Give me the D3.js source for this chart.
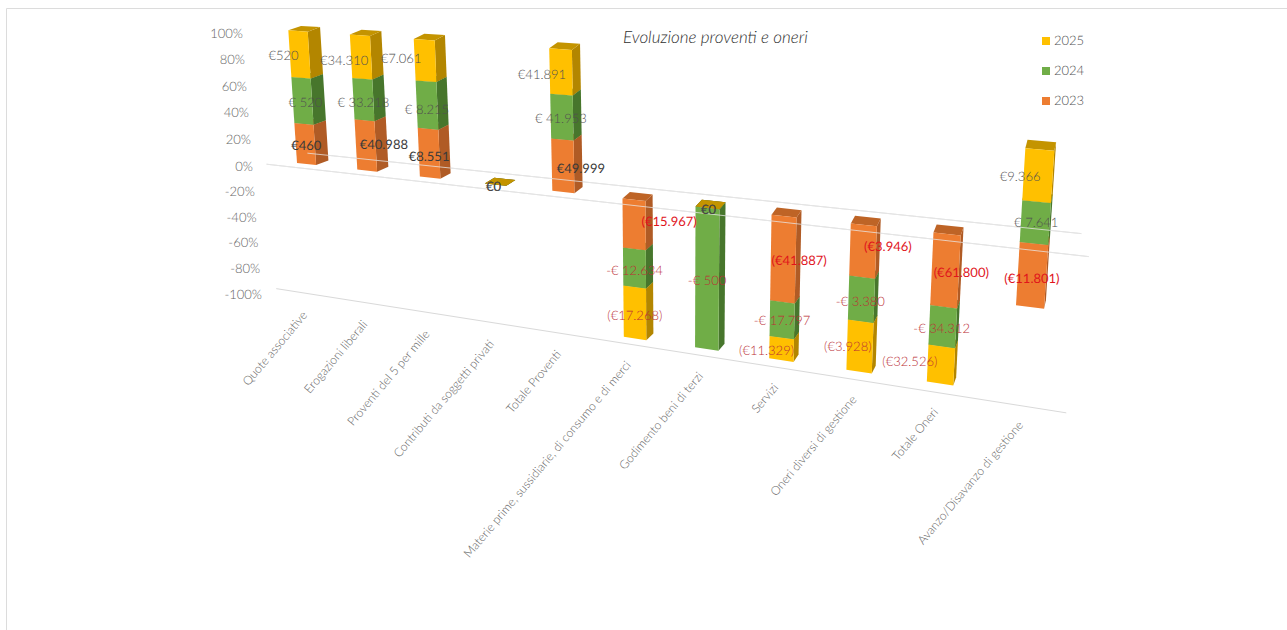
<!DOCTYPE html>
<html><head><meta charset="utf-8">
<script src="https://cdn.jsdelivr.net/npm/d3@7"></script>
<style>
html,body{margin:0;padding:0;background:#fff;overflow:hidden}
svg{display:block}
text{font-family:Lato,"Open Sans",sans-serif;text-rendering:geometricPrecision}
</style></head><body>
<svg id="c" width="1287" height="630"></svg>
<script>
// ---------- data ----------
const categories = ["Quote associative","Erogazioni liberali","Proventi del 5 per mille","Contributi da soggetti privati","Totale Proventi","Materie prime, sussidiarie, di consumo e di merci","Godimento beni di terzi","Servizi","Oneri diversi di gestione","Totale Oneri","Avanzo/Disavanzo di gestione"];
const years = ["2023","2024","2025"];
const values2023 = [460,40988,8551,0,49999,-15967,0,-41887,-3946,-61800,-11801];
const values2024 = [520,33218,8215,0,41953,-12634,-500,-17797,-3380,-34312,7641];
const values2025 = [520,34310,7061,0,41891,-17268,0,-11329,-3928,-32526,9366];
const yTicks = [100,80,60,40,20,0,-20,-40,-60,-80,-100];
const title = "Evoluzione proventi e oneri";

// ---------- layout ----------
const series = [values2023, values2024, values2025];
const faceColors = ["#ED7D31","#70AD47","#FFC000"];
const sideColors = ["#B05B25","#47762C","#B38600"];
const topColors  = ["#BE6426","#4F8232","#C49400"];
// label nudges from the centre of each segment: [dx, dy]
const nudge = [
 [[1,1],[18,-1],[0,3],[-2,2],[18,2],[35,-3],[1,1],[16,1],[25,-5],[16,2],[0,3]],
 [[3,1],[0,3],[0,4],[0,0],[-1,1],[0,2],[0,1],[0,0],[-1,2],[-1,2],[1,0]],
 [[-16,1],[-17,3],[-24,-2],[-2,2],[-19,2],[0,2],[1,1],[-15,1],[-12,0],[-31,-4],[-18,1]]
];

const svg = d3.select("#c");
const u = d3.scalePoint().domain(categories).range([0,10]);
const pct = d3.scaleLinear().domain([-1,1]).range([-100,100]);

// Perspective plane (category position, percent) -> screen
function solve(A,b){
  const n=b.length, M=A.map((r,i)=>[...r,b[i]]);
  for(let i=0;i<n;i++){
    let m=i; for(let k=i+1;k<n;k++) if(Math.abs(M[k][i])>Math.abs(M[m][i])) m=k;
    [M[i],M[m]]=[M[m],M[i]];
    for(let k=i+1;k<n;k++){const f=M[k][i]/M[i][i]; for(let j=i;j<=n;j++) M[k][j]-=f*M[i][j];}
  }
  const x=Array(n).fill(0);
  for(let i=n-1;i>=0;i--){let s=M[i][n]; for(let j=i+1;j<n;j++) s-=M[i][j]*x[j]; x[i]=s/M[i][i];}
  return x;
}
const anchors = [[0,100,298,31],[0,0,306.5,164],[9,0,947,234],[9,-100,940,383.5]];
const H = (()=>{const A=[],b=[];
  anchors.forEach(([a,p,x,y])=>{A.push([a,p,1,0,0,0,-a*x,-p*x]);b.push(x);A.push([0,0,0,a,p,1,-a*y,-p*y]);b.push(y);});
  return solve(A,b);})();
const sideX = d3.scaleLinear().domain([0,10]).range([12.5,2]);
const sideY = d3.scaleLinear().domain([0,10]).range([-4.5,-8.5]);
function P(a,p,d=0){
  const w=H[6]*a+H[7]*p+1;
  return [(H[0]*a+H[1]*p+H[2])/w + d*sideX(a), (H[3]*a+H[4]*p+H[5])/w + d*sideY(a)];
}
const halfW = 0.16;
const poly = pts => pts.map(q=>q.map(v=>v.toFixed(2)).join(",")).join(" ");

// frame
svg.append("path").attr("d","M6.5,630V8.5H1287").attr("fill","none").attr("stroke","#dcdcdc");

// gridlines under bars
const gridDefs = [
 {p:0,d:[1.9,1.7],u:[-0.4,10.5]},
 {p:0,d:[-0.8,-0.8],u:[-0.5,10.62]},
 {p:-100,d:[-0.5,-1.2],u:[-0.55,10.5]}
];
const gridPath = g => { const a=P(g.u[0],g.p,g.d[0]), b=P(g.u[1],g.p,g.d[1]); return `M${a}L${b}`; };
svg.append("g").selectAll("path").data(gridDefs).join("path")
  .attr("d",gridPath).attr("fill","none").attr("stroke","#d9d9d9").attr("stroke-width",1);

// stacked segments, normalised to the sum of absolute values
const stacks = categories.map((c,i)=>{
  const total = d3.sum(series,s=>Math.abs(s[i]));
  let pos=0,neg=0;
  return years.map((y,k)=>{
    const v=series[k][i], f= total? Math.abs(v)/total : 0;
    let a,b;
    if(v>=0){a=pos;pos+=f;b=pos;} else {a=neg;neg-=f;b=neg;}
    return {c,i,k,v,hi:pct(Math.max(a,b)),lo:pct(Math.min(a,b))};
  }).sort((s,t)=>d3.ascending(s.hi,t.hi)||d3.ascending(s.k,t.k));
});

const barG = svg.append("g");
stacks.forEach(st=>{
  const g=barG.append("g");
  st.forEach(s=>{
    const a=u(s.c), L=a-halfW, R=a+halfW;
    g.append("polygon").attr("points",poly([P(R,s.hi),P(R,s.hi,1),P(R,s.lo,1),P(R,s.lo)])).attr("fill",sideColors[s.k]);
    g.append("polygon").attr("points",poly([P(L,s.hi),P(L,s.hi,1),P(R,s.hi,1),P(R,s.hi)])).attr("fill",topColors[s.k]);
    g.append("polygon").attr("points",poly([P(L,s.hi),P(R,s.hi),P(R,s.lo),P(L,s.lo)])).attr("fill",faceColors[s.k]);
  });
});

// gridlines faintly across bars
svg.append("g").selectAll("path").data(gridDefs.slice(0,2)).join("path")
  .attr("d",gridPath).attr("fill","none").attr("stroke","#e8e8e8").attr("stroke-width",1).attr("opacity",.75);

// value axis labels
const axY = d3.scaleLinear().domain([100,0,-100]).range([33,166,294]);
const axX = d3.scaleLinear().domain([100,0,-100]).range([243,253,262]);
svg.append("g").selectAll("text").data(yTicks).join("text")
  .attr("x",d=>axX(d)).attr("y",d=>axY(d)).attr("dy","0.36em").attr("text-anchor","end")
  .attr("font-size",13).attr("font-weight",300).attr("fill","#666").text(d=>d+"%");

// category labels
const catDX = d3.scaleLinear().domain([0,9,10]).range([-9.5,-4,-3.5]);
const catDY = d3.scaleLinear().domain([0,10]).range([22,27]);
svg.append("g").selectAll("text").data(categories).join("text")
  .attr("transform",d=>{const q=P(u(d),-100); return `translate(${q[0]+catDX(u(d))},${q[1]+catDY(u(d))}) rotate(-50)`;})
  .attr("text-anchor","end").attr("dy","0.3em")
  .attr("font-size",12.1).attr("font-weight",300).attr("fill","#666").text(d=>d);

// data labels
const euro = v => d3.format(",")(Math.abs(v)).replace(/,/g,".");
function labelText(v,k){
  if(k===1) return v<0 ? "-€ "+euro(v) : "€ "+euro(v);
  return v<0 ? "(€"+euro(v)+")" : "€"+euro(v);
}
function labelFill(v,k){
  if(v<0) return k===0 ? "#e0141c" : "#bb3036";
  return k===0 ? "#3a3a3a" : "#505050";
}
const labels = stacks.flat().filter(s=>!(s.v===0&&s.k===1)).sort((a,b)=>a.k-b.k);
svg.append("g").selectAll("text").data(labels).join("text")
  .attr("x",s=>P(u(s.c),(s.hi+s.lo)/2)[0]+nudge[s.k][s.i][0])
  .attr("y",s=>P(u(s.c),(s.hi+s.lo)/2)[1]+nudge[s.k][s.i][1])
  .attr("dy","0.36em").attr("text-anchor","middle")
  .attr("font-size",13).attr("font-weight",s=>s.k===0?400:300)
  .attr("fill",s=>labelFill(s.v,s.k)).text(s=>labelText(s.v,s.k));

// title
svg.append("text").attr("x",623).attr("y",43).attr("font-size",17).attr("font-style","italic")
  .attr("font-weight",300).attr("fill","#303030").text(title);

// legend
const legY = d3.scaleLinear().domain([0,2]).range([41,101]);
const leg = svg.append("g").selectAll("g").data(years.slice().reverse()).join("g")
  .attr("transform",(d,i)=>`translate(1042,${legY(i)})`);
leg.append("rect").attr("y",-4).attr("width",8).attr("height",8)
  .attr("fill",d=>faceColors[years.indexOf(d)]);
leg.append("text").attr("x",12).attr("y",-0.5).attr("dy","0.36em").attr("font-size",13).attr("font-weight",300)
  .attr("fill","#505050").text(d=>d);
</script>
</body></html>
